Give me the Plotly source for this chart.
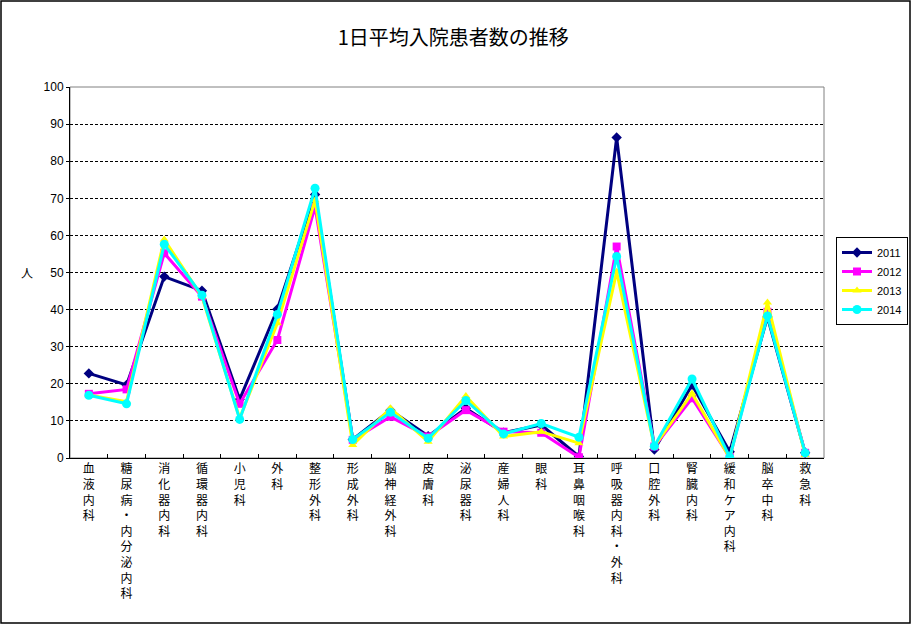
import plotly.graph_objects as go

categories = ["血液内科", "糖尿病・内分泌内科", "消化器内科", "循環器内科", "小児科", "外科",
              "整形外科", "形成外科", "脳神経外科", "皮膚科", "泌尿器科", "産婦人科", "眼科",
              "耳鼻咽喉科", "呼吸器内科・外科", "口腔外科", "腎臓内科", "緩和ケア内科",
              "脳卒中科", "救急科"]

v2011 = [22.8, 19.7, 48.9, 45.1, 15.8, 40.1, 71.0, 5.0, 12.9, 5.9, 13.4, 6.8, 8.9, 0.4,
         86.4, 2.3, 19.7, 1.7, 38.0, 1.4]
v2012 = [17.3, 18.5, 55.2, 43.5, 14.6, 31.8, 67.7, 4.9, 11.1, 5.8, 12.9, 7.1, 6.8, 0.2,
         57.0, 3.1, 16.1, 0.2, 39.4, 1.4]
v2013 = [17.0, 15.2, 58.9, 43.5, 10.7, 36.3, 69.5, 3.5, 13.4, 4.4, 16.7, 5.8, 7.1, 4.0,
         50.2, 3.1, 17.4, 0.0, 41.9, 0.8]
v2014 = [16.9, 14.6, 57.6, 43.9, 10.4, 38.7, 72.7, 5.0, 12.3, 5.3, 15.5, 6.5, 9.3, 5.6,
         54.3, 3.2, 21.3, 0.2, 38.3, 1.4]

series = [
    ("2011", v2011, "#000080", "diamond", 8),
    ("2012", v2012, "#FF00FF", "square", 8),
    ("2013", v2013, "#FFFF00", "triangle-up", 8),
    ("2014", v2014, "#00FFFF", "circle", 9),
]

tick_text = ["<br>".join(list(c)) for c in categories]

fig = go.Figure()
for name, vals, color, sym, size in series:
    fig.add_trace(go.Scatter(
        x=categories, y=vals, name=name, mode="lines+markers",
        line=dict(color=color, width=3),
        marker=dict(symbol=sym, size=size, color=color),
    ))

W, H = 912, 625
L, R, T, B = 70, 824, 87, 458


def px(x):
    return (x - L) / (R - L)


def py(y):
    return (B - y) / (B - T)


fig.update_layout(
    width=W, height=H,
    margin=dict(l=L, r=W - R, t=T, b=H - B, pad=0, autoexpand=False),
    paper_bgcolor="white", plot_bgcolor="white",
    font=dict(family="Noto Sans CJK JP", size=12, color="black"),
    title=dict(text="1日平均入院患者数の推移", x=0.497, xanchor="center",
               y=1 - 38 / H, yanchor="middle",
               font=dict(family="Noto Sans CJK JP", size=20, color="black")),
    showlegend=True,
    legend=dict(xref="container", yref="container", x=836 / W, y=1 - 237 / H,
                xanchor="left", yanchor="top",
                bordercolor="black", borderwidth=1, bgcolor="white",
                font=dict(family="Liberation Sans Narrow, Liberation Sans", size=11),
                itemwidth=30, tracegroupgap=0),
    xaxis=dict(
        tickmode="array", tickvals=categories, ticktext=tick_text,
        tickson="boundaries", ticks="inside", ticklen=4, tickcolor="black",
        showline=True, linecolor="black", linewidth=1, showgrid=False,
        tickangle=0, tickfont=dict(family="Noto Sans CJK JP", size=12),
        range=[-0.5, len(categories) - 0.5], fixedrange=True, automargin=False,
    ),
    yaxis=dict(
        range=[0, 100], dtick=10, tick0=0,
        showline=True, linecolor="black", linewidth=1,
        showgrid=True, gridcolor="black", griddash="3px,2px", gridwidth=1,
        ticks="outside", ticklen=3, tickcolor="black",
        tickfont=dict(family="Liberation Sans Narrow, Liberation Sans", size=12),
        zeroline=False, fixedrange=True, automargin=False,
    ),
    shapes=[
        dict(type="rect", xref="paper", yref="paper", x0=0, x1=1, y0=0, y1=1,
             line=dict(color="#808080", width=1), layer="below"),
        dict(type="rect", xref="paper", yref="paper",
             x0=px(1), x1=px(910), y0=py(623), y1=py(1),
             line=dict(color="black", width=1.5), layer="below"),
    ],
    annotations=[
        dict(text="人", xref="paper", yref="paper", x=px(27), y=py(272),
             showarrow=False, xanchor="center", yanchor="middle",
             font=dict(family="Noto Sans CJK JP", size=12)),
    ],
)

fig.write_html(
    "out.html",
    config={"displayModeBar": False},
    post_script=("document.documentElement.style.overflow='hidden';"
                 "document.body.style.overflow='hidden';"
                 "document.body.style.margin='0';document.body.style.padding='0';"),
)
